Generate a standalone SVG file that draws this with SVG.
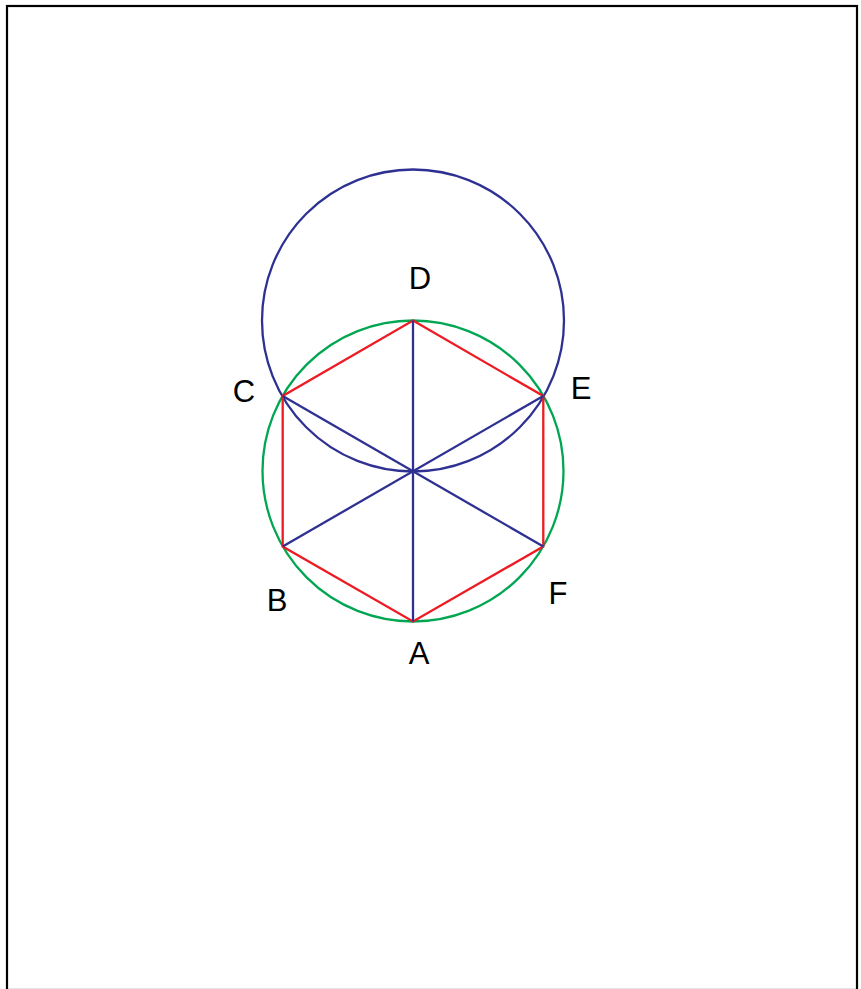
<svg xmlns="http://www.w3.org/2000/svg" width="861" height="989" viewBox="0 0 861 989">
<style>
.lbl{font-family:"Liberation Sans",Arial,sans-serif;font-size:31px;fill:#000;text-anchor:middle}
.blue{fill:none;stroke:#2E3192;stroke-width:2.3}
.red{fill:none;stroke:#ED1C24;stroke-width:2.3}
.green{fill:none;stroke:#00A651;stroke-width:2.3}
</style>
<rect x="0" y="0" width="861" height="989" fill="#fff"/>
<rect x="7" y="6" width="850" height="984" fill="none" stroke="#000" stroke-width="2.2"/>
<g id="circles">
<circle id="green-circle" class="green" cx="413" cy="471" r="150.5"/>
<circle id="blue-circle" class="blue" cx="413" cy="320.5" r="151"/>
</g>
<g id="connectors">
<polygon class="red" points="413,320.5 543.3,396 543.3,546.5 413,621.5 282.7,546.5 282.7,396"/>
<line class="blue" x1="413" y1="320.5" x2="413" y2="621.5"/>
<line class="blue" x1="282.7" y1="396" x2="543.3" y2="546.5"/>
<line class="blue" x1="543.3" y1="396" x2="282.7" y2="546.5"/>
</g>
<g id="node-D"><text class="lbl" x="420" y="289">D</text></g>
<g id="node-C"><text class="lbl" x="244" y="402">C</text></g>
<g id="node-E"><text class="lbl" x="581" y="399">E</text></g>
<g id="node-B"><text class="lbl" x="277" y="611">B</text></g>
<g id="node-A"><text class="lbl" x="419" y="664">A</text></g>
<g id="node-F"><text class="lbl" x="558" y="604">F</text></g>
</svg>
